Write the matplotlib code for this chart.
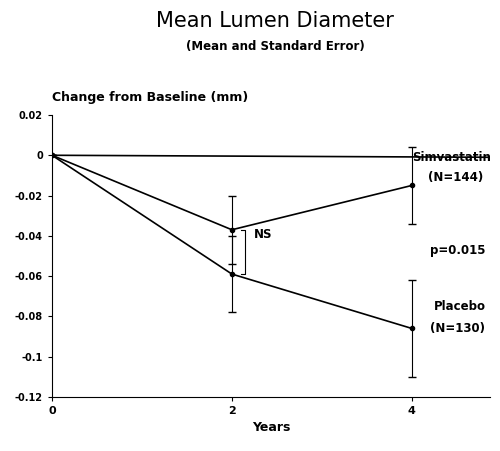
import matplotlib.pyplot as plt

years = [0, 2, 4]
simva = [0.0, -0.037, -0.015]
simva_err = [0.0, 0.017, 0.019]
placebo = [0.0, -0.059, -0.086]
placebo_err = [0.0, 0.019, 0.024]
yticks = [0.02, 0, -0.02, -0.04, -0.06, -0.08, -0.1, -0.12]
ylabels = ['0.02', '0', '-0.02', '-0.04', '-0.06', '-0.08', '-0.1', '-0.12']

fig = plt.figure(figsize=(5.0, 4.51), dpi=100)
ax = fig.add_axes([0.104, 0.12, 0.876, 0.625])

ax.plot([0, 4.9], [0, -0.001], color='black', lw=1.2)
ax.errorbar(years, simva, yerr=simva_err, color='black', lw=1.2, elinewidth=0.8,
            capsize=3, marker='o', markersize=3)
ax.errorbar(years, placebo, yerr=placebo_err, color='black', lw=1.2, elinewidth=0.8,
            capsize=3, marker='o', markersize=3)
# NS bracket
ax.plot([2.1, 2.15, 2.15, 2.1], [simva[1], simva[1], placebo[1], placebo[1]], color='black', lw=0.8)

ax.set_xlim(0, 4.87)
ax.set_ylim(-0.12, 0.02)
ax.set_xticks(years)
ax.set_xticklabels(['0', '2', '4'], fontsize=8, fontweight='bold')
ax.set_yticks(yticks)
ax.set_yticklabels(ylabels, fontsize=7, fontweight='bold')
ax.spines['top'].set_visible(False)
ax.spines['right'].set_visible(False)
ax.tick_params(length=3)
ax.set_xlabel('Years', fontsize=9, fontweight='bold')

kw = dict(fontsize=8.5, fontweight='bold')
ax.text(2.25, -0.041, 'NS', **kw)
ax.text(4.0, -0.003, 'Simvastatin', **kw)
ax.text(4.18, -0.013, '(N=144)', **kw)
ax.text(4.2, -0.049, 'p=0.015', **kw)
ax.text(4.25, -0.077, 'Placebo', **kw)
ax.text(4.2, -0.088, '(N=130)', **kw)
fig.text(0.104, 0.775, 'Change from Baseline (mm)', fontsize=9, fontweight='bold')

fig.text(0.55, 0.94, 'Mean Lumen Diameter', ha='center', fontsize=15)
fig.text(0.55, 0.89, '(Mean and Standard Error)', ha='center', fontsize=8.5, fontweight='bold')

fig.savefig('out.png')
